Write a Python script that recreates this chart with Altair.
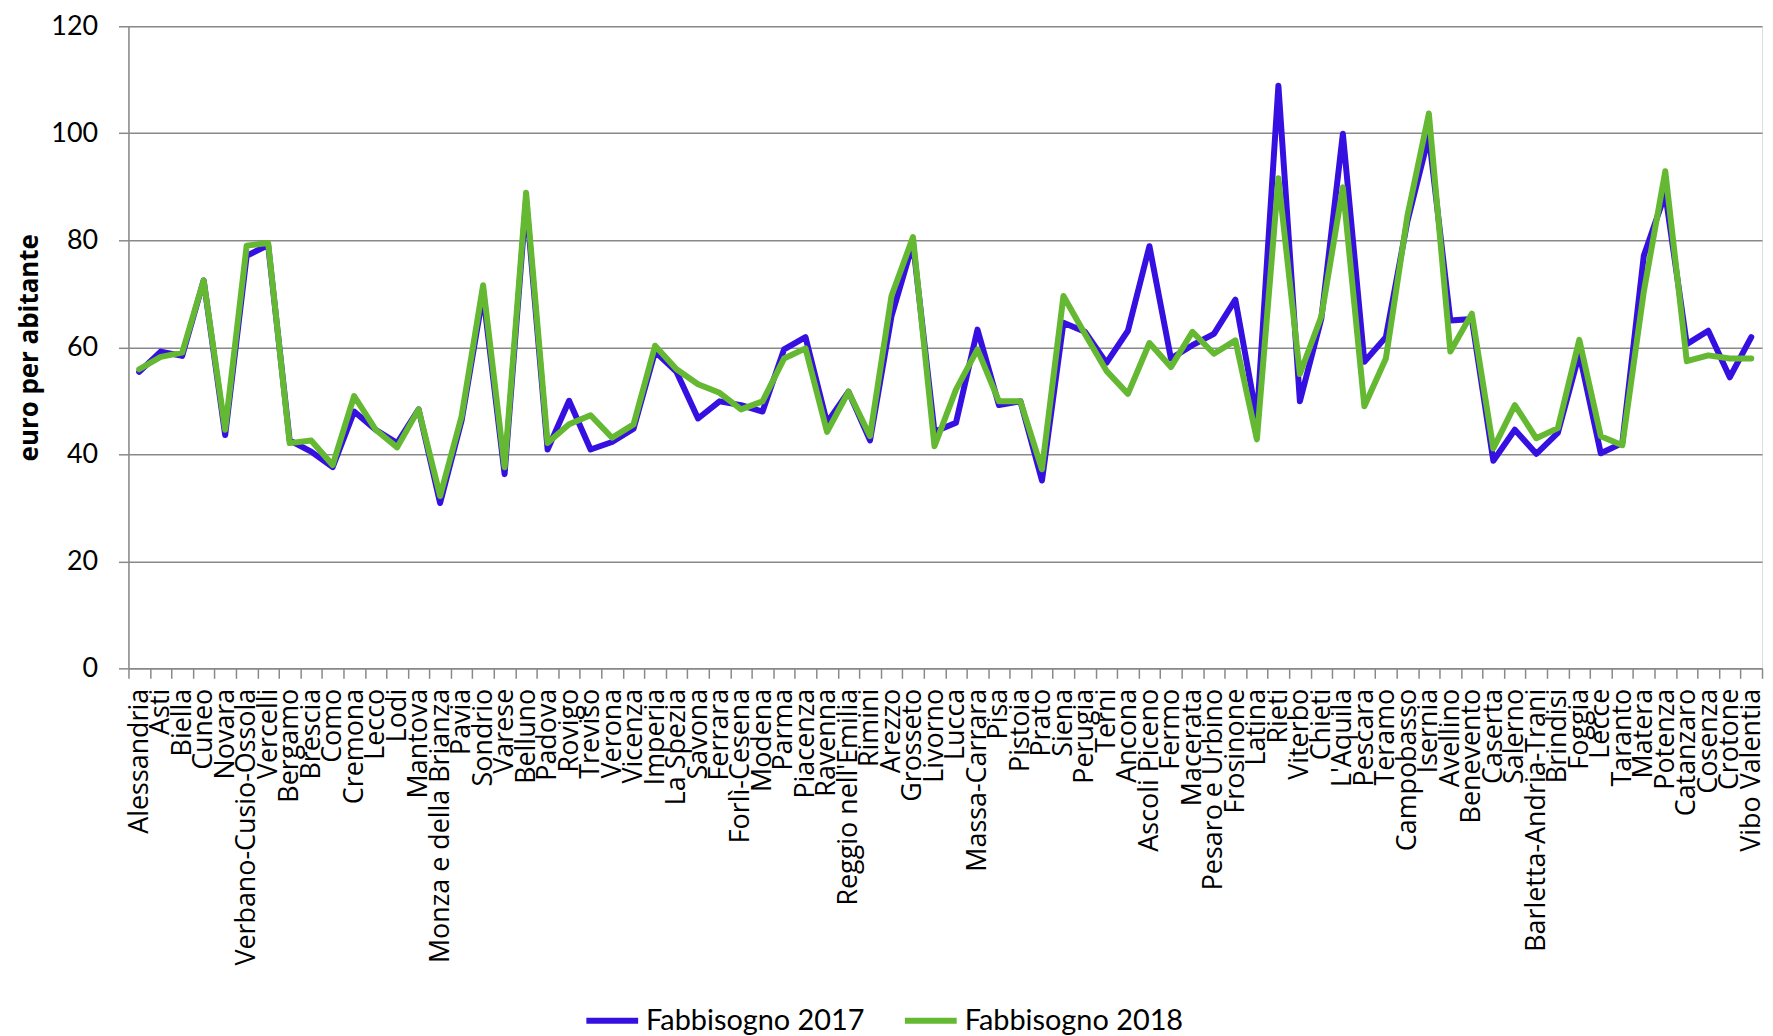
import altair as alt
import pandas as pd

categories = ["Alessandria", "Asti", "Biella", "Cuneo", "Novara", "Verbano-Cusio-Ossola", "Vercelli",
              "Bergamo", "Brescia", "Como", "Cremona", "Lecco", "Lodi", "Mantova", "Monza e della Brianza",
              "Pavia", "Sondrio", "Varese", "Belluno", "Padova", "Rovigo", "Treviso", "Verona", "Vicenza",
              "Imperia", "La Spezia", "Savona", "Ferrara", "Forlì-Cesena", "Modena", "Parma", "Piacenza",
              "Ravenna", "Reggio nell'Emilia", "Rimini", "Arezzo", "Grosseto", "Livorno", "Lucca",
              "Massa-Carrara", "Pisa", "Pistoia", "Prato", "Siena", "Perugia", "Terni", "Ancona",
              "Ascoli Piceno", "Fermo", "Macerata", "Pesaro e Urbino", "Frosinone", "Latina", "Rieti",
              "Viterbo", "Chieti", "L'Aquila", "Pescara", "Teramo", "Campobasso", "Isernia", "Avellino",
              "Benevento", "Caserta", "Salerno", "Barletta-Andria-Trani", "Brindisi", "Foggia", "Lecce",
              "Taranto", "Matera", "Potenza", "Catanzaro", "Cosenza", "Crotone", "Vibo Valentia"]

fabb_2017 = [55.4, 59.2, 58.4, 72.5, 43.6, 77.1, 79.1, 42.6, 40.5, 37.6, 48.0, 44.6, 42.1, 48.4, 30.9,
             46.3, 70.0, 36.3, 87.5, 40.9, 50.0, 40.9, 42.3, 44.8, 59.2, 55.4, 46.7, 49.9, 49.2, 48.0,
             59.6, 61.9, 45.9, 51.7,
             42.6, 65.8, 79.5, 44.2, 45.9, 63.3, 49.2, 49.9, 35.1, 64.6, 62.9, 57.1, 63.1, 78.9, 57.9,
             60.4, 62.5, 68.9, 46.7, 108.9,
             49.9, 65.4, 99.9, 57.3, 61.9, 83.5, 99.5, 65.0, 65.3, 38.8, 44.6, 40.1, 44.0, 58.8, 40.2,
             42.1, 77.1, 88.7, 60.6, 63.1, 54.4, 61.9]

fabb_2018 = [55.9, 58.2, 59.0, 72.5, 44.6, 79.0, 79.5, 42.1, 42.6, 38.0, 50.9, 44.6, 41.3, 48.4, 32.2,
             47.1, 71.6, 37.6, 88.9, 42.1, 45.6, 47.3, 43.1, 45.6, 60.3, 55.9, 53.1, 51.5, 48.4, 49.9,
             57.9, 59.8, 44.2, 51.7,
             43.4, 69.6, 80.6, 41.5, 52.1, 59.6, 49.9, 49.9, 37.2, 69.6, 62.5, 55.6, 51.3, 60.8, 56.3,
             62.9, 58.8, 61.3, 42.8, 91.6,
             55.0, 65.8, 89.9, 49.0, 57.9, 84.5, 103.7, 59.2, 66.3, 41.1, 49.2, 43.0, 44.9, 61.4, 43.4,
             41.7, 70.4, 92.9, 57.4, 58.5, 57.9, 57.9]

series_names = ["Fabbisogno 2017", "Fabbisogno 2018"]
series_colors = ["#3510E0", "#64B832"]
y_ticks = [0, 20, 40, 60, 80, 100, 120]

rows = []
for name, vals in zip(series_names, [fabb_2017, fabb_2018]):
    for c, v in zip(categories, vals):
        rows.append({"provincia": c, "serie": name, "valore": v})
df = pd.DataFrame(rows)

W, H = 1641, 645

chart = alt.Chart(df).mark_line(strokeWidth=6, strokeJoin="round", strokeCap="round").encode(
    x=alt.X("provincia:N", sort=categories,
            scale=alt.Scale(type="band", paddingInner=0, paddingOuter=0),
            axis=alt.Axis(title=None, labelAngle=270, labelFont="Open Sans", labelFontSize=27,
                          labelColor="#000000", labelPadding=10, tickSize=10, tickBand="extent",
                          tickColor="#898989", tickWidth=1.5, domainColor="#898989", domainWidth=1.5,
                          grid=False, labelOverlap=False, labelLimit=0)),
    y=alt.Y("valore:Q",
            scale=alt.Scale(domain=[0, 120], nice=False),
            axis=alt.Axis(title="euro per abitante", values=y_ticks, titleFont="Open Sans",
                          titleFontSize=26, titleFontWeight="bold", titleColor="#000000",
                          titleAngle=270, titleAlign="center", titleBaseline="middle",
                          titleX=-99, titleY=H / 2,
                          labelFont="Lato", labelFontSize=27, labelColor="#000000", labelPadding=21,
                          tickSize=10, tickColor="#898989", tickWidth=1.5,
                          domainColor="#898989", domainWidth=1.5,
                          gridColor="#898989", gridWidth=1.5)),
    color=alt.Color("serie:N",
                    scale=alt.Scale(domain=series_names, range=series_colors),
                    legend=alt.Legend(title=None, orient="none", legendX=457, legendY=970,
                                      direction="horizontal", symbolType="stroke",
                                      symbolSize=2704, symbolStrokeWidth=6,
                                      labelFont="Lato", labelFontSize=29, labelColor="#000000",
                                      labelOffset=5, columnPadding=28, labelLimit=0)),
).properties(
    width=W, height=H,
    autosize=alt.AutoSizeParams(type="none"),
    padding={"left": 121, "top": 16, "right": 3, "bottom": 1036 - 16 - H},
).configure_view(stroke=None).configure(background="white")

chart.save("out.html", embed_options={"renderer": "svg", "actions": False})
